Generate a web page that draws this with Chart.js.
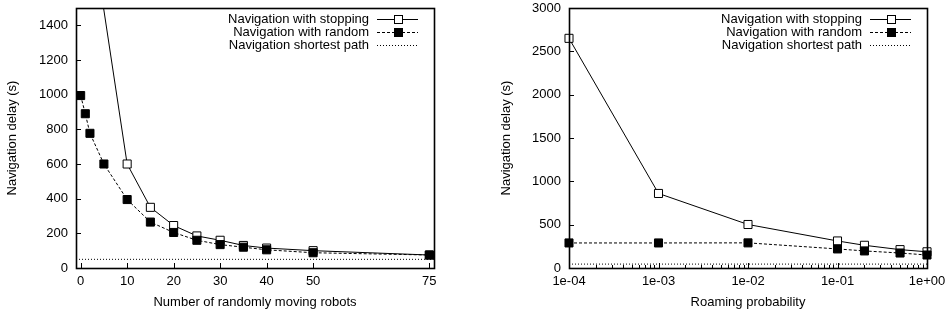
<!DOCTYPE html>
<html><head><meta charset="utf-8">
<script src="https://cdn.jsdelivr.net/npm/chart.js@4.4.0/dist/chart.umd.min.js"></script>
<style>
html,body{margin:0;padding:0;background:#fff;}
#wrap{position:relative;width:945px;height:316px;overflow:hidden;background:#fff;}
#c1{position:absolute;left:0;top:0;}
#c2{position:absolute;left:472px;top:0;}
</style></head><body>
<div id="wrap"><canvas id="c1" width="472" height="316"></canvas><canvas id="c2" width="473" height="316"></canvas></div>
<script>
const seriesNames = ['Navigation with stopping','Navigation with random','Navigation shortest path'];
// Left chart: number of randomly moving robots
const robotsStop = [2,10,15,20,25,30,35,40,50,75];
const delayStopRobots = [2020,600,350,245,185,160,130,115,100,75];
const robotsRandom = [0,1,2,5,10,15,20,25,30,35,40,50,75];
const delayRandomRobots = [995,890,777,600,395,265,205,160,135,120,105,88,75];
const robotsShortest = [-1,76];
const delayShortestRobots = [50,50];
const robotsTicks = [0,10,20,30,40,50,75];
const delayTicksLeft = [0,200,400,600,800,1000,1200,1400];
// Right chart: roaming probability
const roamProb = [1e-4,1e-3,1e-2,1e-1,0.2,0.5,1];
const delayStopRoam = [2650,860,502,312,262,212,187];
const delayRandomRoam = [289,289,290,220,197,173,150];
const roamShortest = [1e-4,1];
const delayShortestRoam = [45,45];
const roamTicks = [1e-4,1e-3,1e-2,1e-1,1];
const roamTickLabels = ['1e-04','1e-03','1e-02','1e-01','1e+00'];
const delayTicksRight = [0,500,1000,1500,2000,2500,3000];

const FONT = 'Liberation Sans, Arial, Helvetica, sans-serif';
Chart.defaults.font.family = FONT;
Chart.defaults.font.size = 13;
Chart.defaults.color = '#000';

function pts(xs, ys){ return xs.map((x,i)=>({x:x, y:ys[i]})); }
function noPad(s){ s.paddingTop = 0; s.paddingBottom = 0; s.paddingLeft = 0; s.paddingRight = 0; }

const framePlugin = {
  id:'frame',
  afterDatasetsDraw(chart){
    const {ctx, chartArea:a, scales:{x,y}} = chart;
    const o = chart.options.plugins.frame || {};
    ctx.save();
    ctx.strokeStyle = '#000';
    ctx.lineWidth = 1;
    ctx.setLineDash([]);
    ctx.beginPath();
    x.ticks.forEach(t=>{
      const px = Math.round(x.getPixelForValue(t.value))+0.5;
      ctx.moveTo(px, a.bottom); ctx.lineTo(px, a.bottom-5);
    });
    if (o.minor) {
      for (let e=-4; e<0; e++) {
        for (let k=2; k<=9; k++) {
          const v = k*Math.pow(10,e);
          const px = Math.round(x.getPixelForValue(v))+0.5;
          ctx.moveTo(px, a.bottom); ctx.lineTo(px, a.bottom-3);
        }
      }
    }
    y.ticks.forEach(t=>{
      const py = Math.round(y.getPixelForValue(t.value))+0.5;
      ctx.moveTo(a.left, py); ctx.lineTo(a.left+5, py);
    });
    ctx.stroke();
    ctx.lineWidth = 1.6;
    ctx.strokeRect(Math.round(a.left)+0.5, Math.round(a.top)+0.5, Math.round(a.right-a.left), Math.round(a.bottom-a.top));
    // legend (gnuplot style: text left, sample right)
    const ds = chart.data.datasets;
    ctx.font = '13px ' + FONT;
    ctx.textBaseline = 'middle';
    ctx.textAlign = 'right';
    ds.forEach((d,i)=>{
      const yy = Math.round(a.top + 11 + 13*i) + 0.5;
      ctx.fillStyle = '#000';
      ctx.fillText(d.label, a.right-65, yy);
      ctx.lineWidth = d.borderWidth;
      ctx.setLineDash(d.borderDash || []);
      ctx.beginPath();
      ctx.moveTo(a.right-57, yy); ctx.lineTo(a.right-16, yy);
      ctx.stroke();
      ctx.setLineDash([]);
      if (d.pointRadius > 0) {
        const cx = Math.round(a.right-36.5)+0.5;
        ctx.fillStyle = d.pointBackgroundColor;
        ctx.fillRect(cx-4, yy-4, 8, 8);
        ctx.lineWidth = 1;
        ctx.strokeRect(cx-4, yy-4, 8, 8);
      }
    });
    ctx.restore();
  }
};

function makeChart(canvas, cfg){
  return new Chart(canvas, {
    type:'line',
    data:{datasets:[
      {label:seriesNames[0], data:cfg.stop, borderColor:'#000', borderWidth:1, pointStyle:'rect', pointRadius:5.7,
       pointBackgroundColor:'#fff', pointBorderColor:'#000', pointBorderWidth:1, tension:0, order:1, clip:cfg.clipStop},
      {label:seriesNames[1], data:cfg.random, borderColor:'#000', borderWidth:1, borderDash:[3,2], pointStyle:'rect', pointRadius:5.7,
       pointBackgroundColor:'#000', pointBorderColor:'#000', pointBorderWidth:1, tension:0, order:0, clip:false},
      {label:seriesNames[2], data:cfg.shortest, borderColor:'#000', borderWidth:1, borderDash:[1,2], pointRadius:0, tension:0, order:2, clip:false}
    ]},
    options:{
      responsive:false, animation:false, devicePixelRatio:1,
      layout:{autoPadding:false, padding:{left:0, right:cfg.padRight, top:8, bottom:0}},
      plugins:{legend:{display:false}, tooltip:{enabled:false}, frame:{minor:cfg.minor}},
      scales:{
        x:{type:cfg.xType, min:cfg.xMin, max:cfg.xMax,
           grid:{display:false, drawTicks:false}, border:{display:false},
           afterBuildTicks(s){ s.ticks = cfg.xTicks.map(v=>({value:v})); },
           afterFit(s){ s.height = 48; noPad(s); },
           ticks:{padding:6, maxRotation:0, autoSkip:false, callback:cfg.xLabel},
           title:{display:true, text:cfg.xTitle, padding:{top:0,bottom:6}}},
        y:{type:'linear', min:0, max:cfg.yMax,
           grid:{display:false, drawTicks:false}, border:{display:false},
           afterBuildTicks(s){ s.ticks = cfg.yTicks.map(v=>({value:v})); },
           afterFit(s){ s.width = cfg.yWidth; noPad(s); },
           ticks:{padding:8, autoSkip:false, callback:(v)=>String(v)},
           title:{display:true, text:'Navigation delay (s)', padding:{top:cfg.yTitlePad,bottom:0}}}
      }
    },
    plugins:[framePlugin]
  });
}

makeChart(document.getElementById('c1'), {
  stop:pts(robotsStop, delayStopRobots), random:pts(robotsRandom, delayRandomRobots), shortest:pts(robotsShortest, delayShortestRobots),
  clipStop:0, padRight:38, xType:'linear', xMin:-1, xMax:76, xTicks:robotsTicks, xLabel:(v)=>String(v),
  xTitle:'Number of randomly moving robots', yMax:1500, yTicks:delayTicksLeft, yWidth:76, yTitlePad:5, minor:false
});
makeChart(document.getElementById('c2'), {
  stop:pts(roamProb, delayStopRoam), random:pts(roamProb, delayRandomRoam), shortest:pts(roamShortest, delayShortestRoam),
  clipStop:false, padRight:18, xType:'logarithmic', xMin:1e-4, xMax:1, xTicks:roamTicks, xLabel:(v,i)=>roamTickLabels[i],
  xTitle:'Roaming probability', yMax:3000, yTicks:delayTicksRight, yWidth:97, yTitlePad:27, minor:true
});
</script>
</body></html>
